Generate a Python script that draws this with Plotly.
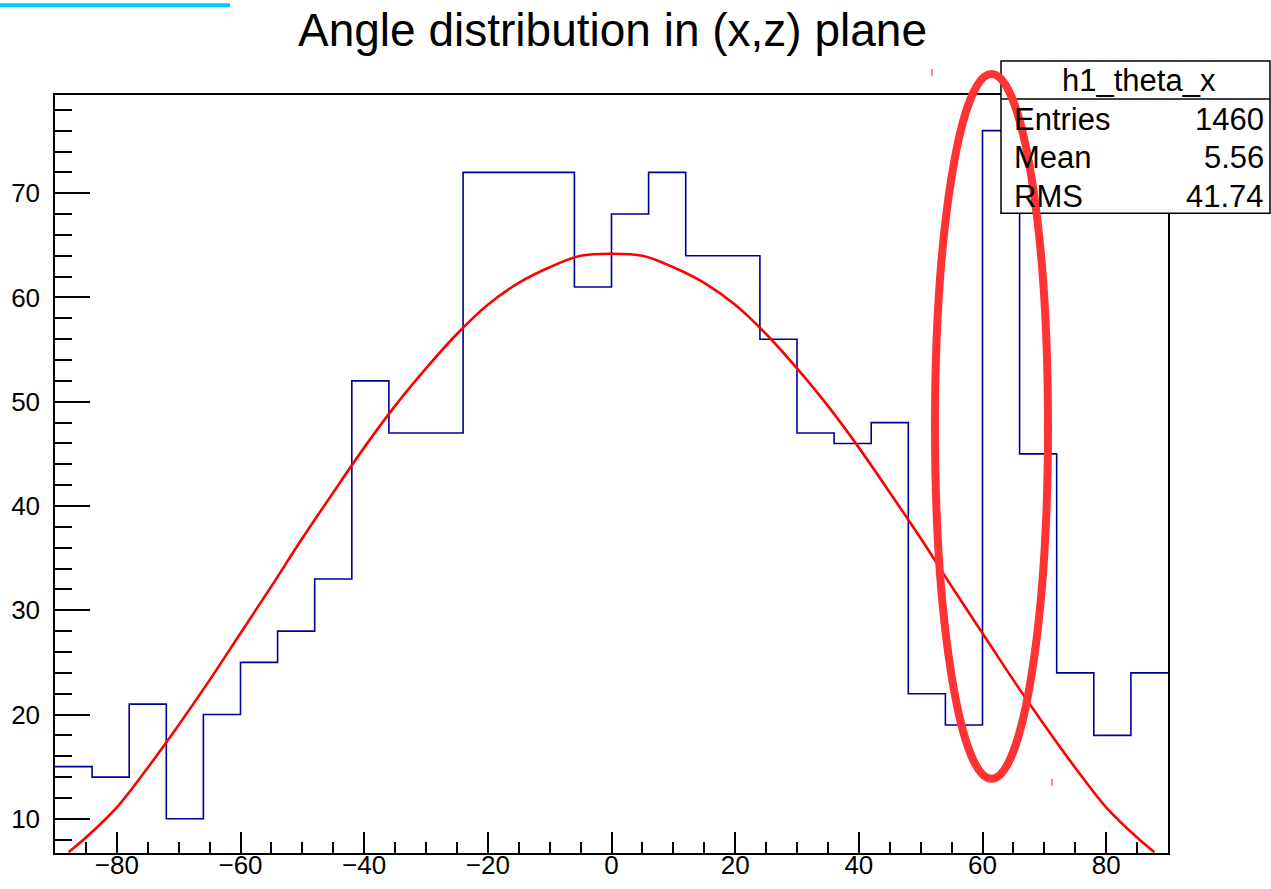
import plotly.graph_objects as go

# ---- data ----
bin_edges = [-90, -84, -78, -72, -66, -60, -54, -48, -42, -36, -30, -24, -18, -12, -6,
             0, 6, 12, 18, 24, 30, 36, 42, 48, 54, 60, 66, 72, 78, 84, 90]
bin_counts = [15, 14, 21, 10, 20, 25, 28, 33, 52, 47, 47, 72, 72, 72, 61,
              68, 72, 64, 64, 56, 47, 46, 48, 22, 19, 76, 45, 24, 18, 24]

# fitted curve
fit_x = [-87.8, -85, -80, -75, -70, -65, -60, -55, -50, -45, -40, -35, -30, -25, -20,
         -15, -10, -5, 0, 5, 10, 15, 20, 25, 30, 35, 40, 45, 50, 55, 60, 65, 70,
         75, 80, 85, 87.8]
fit_y = [6.8, 8.2, 11.1, 14.9, 19.0, 23.3, 27.8, 32.3, 36.9, 41.3, 45.6, 49.6, 53.2, 56.5, 59.3,
         61.4, 62.9, 64.0, 64.2, 64.0, 62.9, 61.4, 59.3, 56.5, 53.2, 49.6, 45.6, 41.3, 36.9,
         32.3, 27.8, 23.3, 19.0, 14.9, 11.1, 8.2, 6.8]

title_text = "Angle distribution in (x,z) plane"
stats_name = "h1_theta_x"
stats_rows = [("Entries", "1460"), ("Mean", "5.56"), ("RMS", "41.74")]

# ---- layout geometry (pixels) ----
W, H = 1271, 889
L, R, T, B = 55, 1168, 95, 853.3
FONT = "Liberation Sans, Arial, Helvetica, sans-serif"


def px(x):
    return (x - L) / (R - L)


def py(y):
    return (B - y) / (B - T)


fig = go.Figure()

fig.add_trace(go.Scatter(
    x=bin_edges, y=bin_counts + [bin_counts[-1]], mode="lines",
    line=dict(shape="hv", color="#000099", width=1.6),
    hoverinfo="skip", showlegend=False))

fig.add_trace(go.Scatter(
    x=fit_x, y=fit_y, mode="lines",
    line=dict(shape="spline", smoothing=1.0, color="#ff0000", width=2.6),
    hoverinfo="skip", showlegend=False))

shapes = []
# stats box
shapes.append(dict(type="rect", xref="paper", yref="paper",
                   x0=px(1001), x1=px(1270), y0=py(213.3), y1=py(61),
                   line=dict(color="black", width=1.5), fillcolor="white", layer="above"))
shapes.append(dict(type="line", xref="paper", yref="paper",
                   x0=px(1001), x1=px(1270), y0=py(99), y1=py(99),
                   line=dict(color="black", width=1.5), layer="above"))
# red ellipse annotation
shapes.append(dict(type="circle", xref="paper", yref="paper",
                   x0=px(935), x1=px(1048), y0=py(779), y1=py(74),
                   line=dict(color="#ff3333", width=8), layer="above"))
# cyan line at top-left
shapes.append(dict(type="line", xref="paper", yref="paper",
                   x0=px(0), x1=px(230), y0=py(5.3), y1=py(5.3),
                   line=dict(color="#00c8ff", width=4), layer="above"))
# tiny red marks
shapes.append(dict(type="line", xref="paper", yref="paper",
                   x0=px(932), x1=px(932), y0=py(69), y1=py(76),
                   line=dict(color="#ff8a8a", width=2), layer="above"))
shapes.append(dict(type="line", xref="paper", yref="paper",
                   x0=px(1052), x1=px(1052), y0=py(779), y1=py(786),
                   line=dict(color="#ff8a8a", width=2), layer="above"))

annotations = [dict(text=stats_name, xref="paper", yref="paper", x=px(1139), y=py(80),
                    xanchor="center", yanchor="middle", showarrow=False,
                    font=dict(family=FONT, size=31, color="black"))]
row_y = [120, 158, 197]
for (lab, val), yy in zip(stats_rows, row_y):
    annotations.append(dict(text=lab, xref="paper", yref="paper", x=px(1012), y=py(yy),
                            xanchor="left", yanchor="middle", showarrow=False,
                            font=dict(family=FONT, size=31, color="black")))
    annotations.append(dict(text=val, xref="paper", yref="paper", x=px(1266), y=py(yy),
                            xanchor="right", yanchor="middle", showarrow=False,
                            font=dict(family=FONT, size=31, color="black")))

axis_common = dict(showline=True, linecolor="black", linewidth=1.5, mirror=True,
                   ticks="inside", tickcolor="black", tickwidth=1.5,
                   showgrid=False, zeroline=False, automargin=False,
                   tickfont=dict(family=FONT, size=26, color="black"))

fig.update_layout(
    width=W, height=H,
    margin=dict(l=L, r=W - R, t=T, b=H - B, pad=0, autoexpand=False),
    paper_bgcolor="white", plot_bgcolor="white",
    showlegend=False,
    title=dict(text=title_text, xref="container", yref="container",
               x=612.5 / W, y=1 - 30 / H, xanchor="center", yanchor="middle",
               font=dict(family=FONT, size=46, color="black"), automargin=False),
    xaxis=dict(range=[-90, 90], dtick=20, tick0=0, ticklen=21,
               ticklabelstandoff=-12,
               minor=dict(ticks="inside", ticklen=11, dtick=5, tickcolor="black", tickwidth=1.5),
               **axis_common),
    yaxis=dict(range=[6.72, 79.42], dtick=10, tick0=0, ticklen=35,
               ticklabelstandoff=8,
               minor=dict(ticks="inside", ticklen=17, dtick=2, tickcolor="black", tickwidth=1.5),
               **axis_common),
    shapes=shapes,
    annotations=annotations,
)

fig.write_html("out.html")
